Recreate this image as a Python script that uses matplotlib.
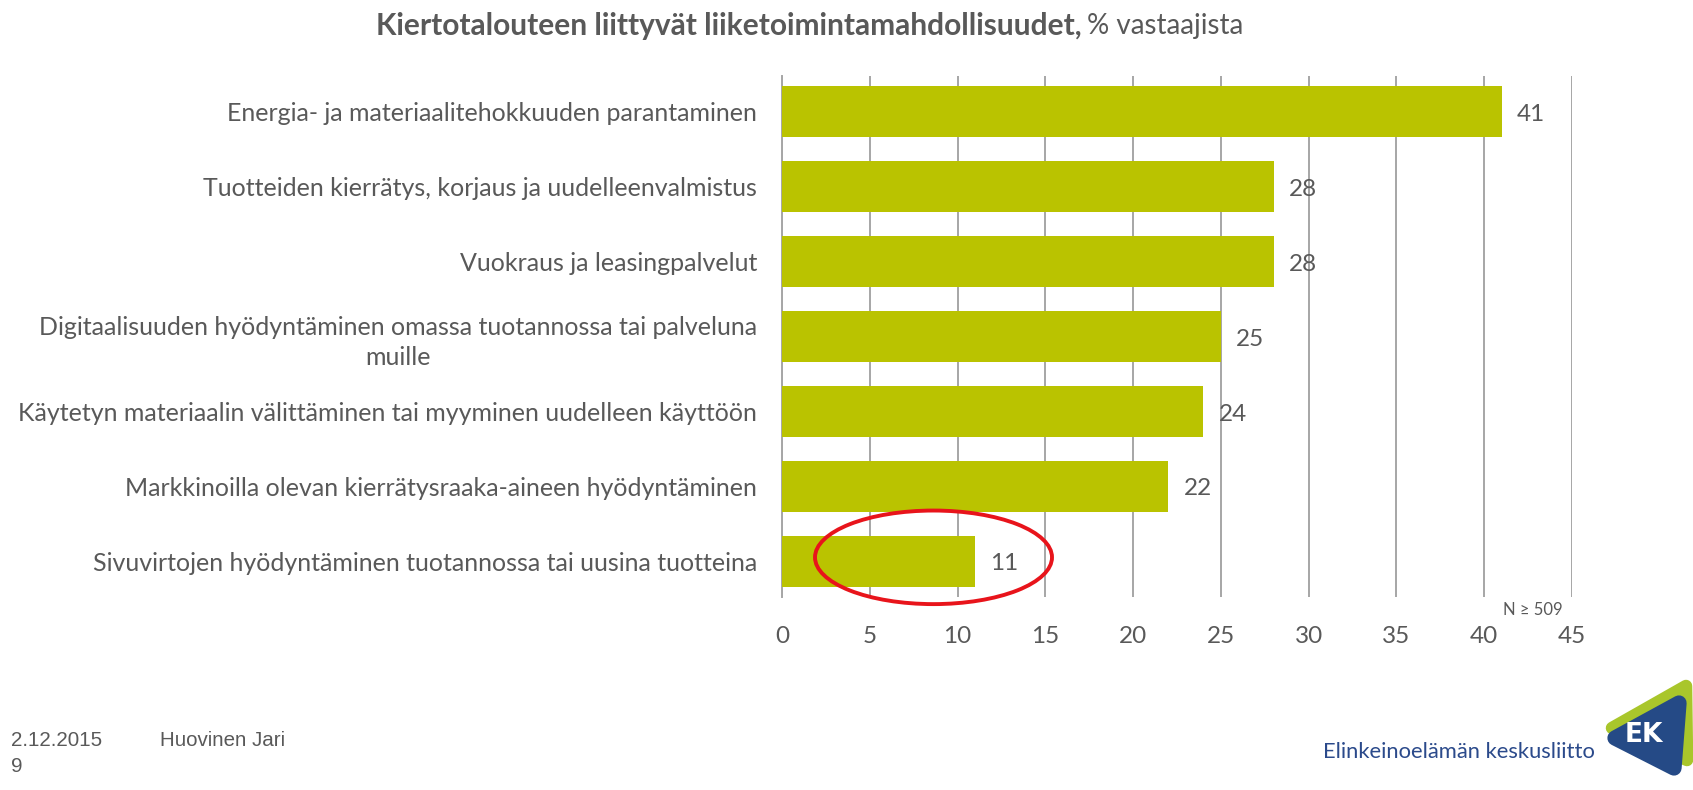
import matplotlib.pyplot as plt
from matplotlib.patches import Ellipse, Polygon

# Data
categories = ["Energia- ja materiaalitehokkuuden parantaminen",
              "Tuotteiden kierrätys, korjaus ja uudelleenvalmistus",
              "Vuokraus ja leasingpalvelut",
              "Digitaalisuuden hyödyntäminen omassa tuotannossa tai palveluna\nmuille",
              "Käytetyn materiaalin välittäminen tai myyminen uudelleen käyttöön",
              "Markkinoilla olevan kierrätysraaka-aineen hyödyntäminen",
              "Sivuvirtojen hyödyntäminen tuotannossa tai uusina tuotteina"]
values = [41, 28, 28, 25, 24, 22, 11]
x_ticks = [0, 5, 10, 15, 20, 25, 30, 35, 40, 45]

bar_color = '#bac300'
text_color = '#595959'
grid_color = '#a6a6a6'
W, H = 1693, 790

plt.rcParams['font.family'] = ['Lato', 'DejaVu Sans']

fig = plt.figure(figsize=(W / 100, H / 100), dpi=100)
ax = fig.add_axes([782 / W, 1 - 597 / H, (1572 - 782) / W, (597 - 76) / H])

ypos = list(range(len(categories)))
bars = ax.barh(ypos, values, height=0.68, color=bar_color, zorder=3)
ax.set_ylim(6.48, -0.48)
ax.set_xlim(0, 45)
ax.set_xticks(x_ticks)
ax.set_yticks(ypos)
ax.set_yticklabels(categories, fontsize=18, color=text_color)
for lab in ax.get_yticklabels():
    lab.set_multialignment('center')
    lab.set_linespacing(1.4)
ax.tick_params(axis='y', length=0, pad=18)
ax.tick_params(axis='x', length=0, pad=21, labelsize=17.5, labelcolor=text_color)
ax.grid(axis='x', color=grid_color, linewidth=1.4, zorder=0)
for s in ['top', 'right', 'bottom']:
    ax.spines[s].set_visible(False)
ax.spines['left'].set_color(grid_color)
ax.spines['left'].set_linewidth(1.4)

for b, v in zip(bars, values):
    ax.annotate(str(v), (v, b.get_y() + b.get_height() / 2), xytext=(11, -2),
                textcoords='offset points', va='center', ha='left',
                fontsize=17.5, color=text_color)

# red highlight ellipse around the last bar
ell = Ellipse((8.63, 5.95), 13.5, 1.25, fill=False, edgecolor='#e8141b',
              linewidth=2.8, zorder=5, clip_on=False)
ax.add_patch(ell)

# title
fig.text(1082 / W, 1 - 26 / H, "Kiertotalouteen liittyvät liiketoimintamahdollisuudet,",
         ha='right', va='center', fontsize=21.5, fontweight='bold', color=text_color)
fig.text(1087 / W, 1 - 26 / H, "% vastaajista", ha='left', va='center',
         fontsize=20, color=text_color)

fig.text(1533 / W, 1 - 610 / H, "N ≥ 509", ha='center', va='center',
         fontsize=12, color=text_color)

# footer
footer_font = ['Liberation Sans', 'DejaVu Sans']
fig.text(11 / W, 1 - 741 / H, "2.12.2015", ha='left', va='center',
         fontsize=14.8, color=text_color, family=footer_font)
fig.text(160 / W, 1 - 741 / H, "Huovinen Jari", ha='left', va='center',
         fontsize=14.8, color=text_color, family=footer_font)
fig.text(11 / W, 1 - 766 / H, "9", ha='left', va='center',
         fontsize=14.8, color=text_color, family=footer_font)

# logo
fig.text(1323 / W, 1 - 752 / H, "Elinkeinoelämän keskusliitto", ha='left', va='center',
         fontsize=15.8, color='#2b4a8b')

def px(points):
    return [(x / W, 1 - y / H) for x, y in points]

green = Polygon(px([(1612, 728), (1686, 686), (1687, 760)]), closed=True,
                facecolor='#a9c62b', edgecolor='#a9c62b', linewidth=9,
                joinstyle='round', transform=fig.transFigure)
blue = Polygon(px([(1615, 738), (1679, 703), (1674, 768)]), closed=True,
               facecolor='#254a86', edgecolor='#254a86', linewidth=11,
               joinstyle='round', transform=fig.transFigure)
fig.patches.extend([green, blue])
fig.text(1644 / W, 1 - 735 / H, "EK", ha='center', va='center', fontsize=19,
         fontweight='bold', color='white', family=['DejaVu Sans'])

fig.savefig('out.png', dpi=100)
